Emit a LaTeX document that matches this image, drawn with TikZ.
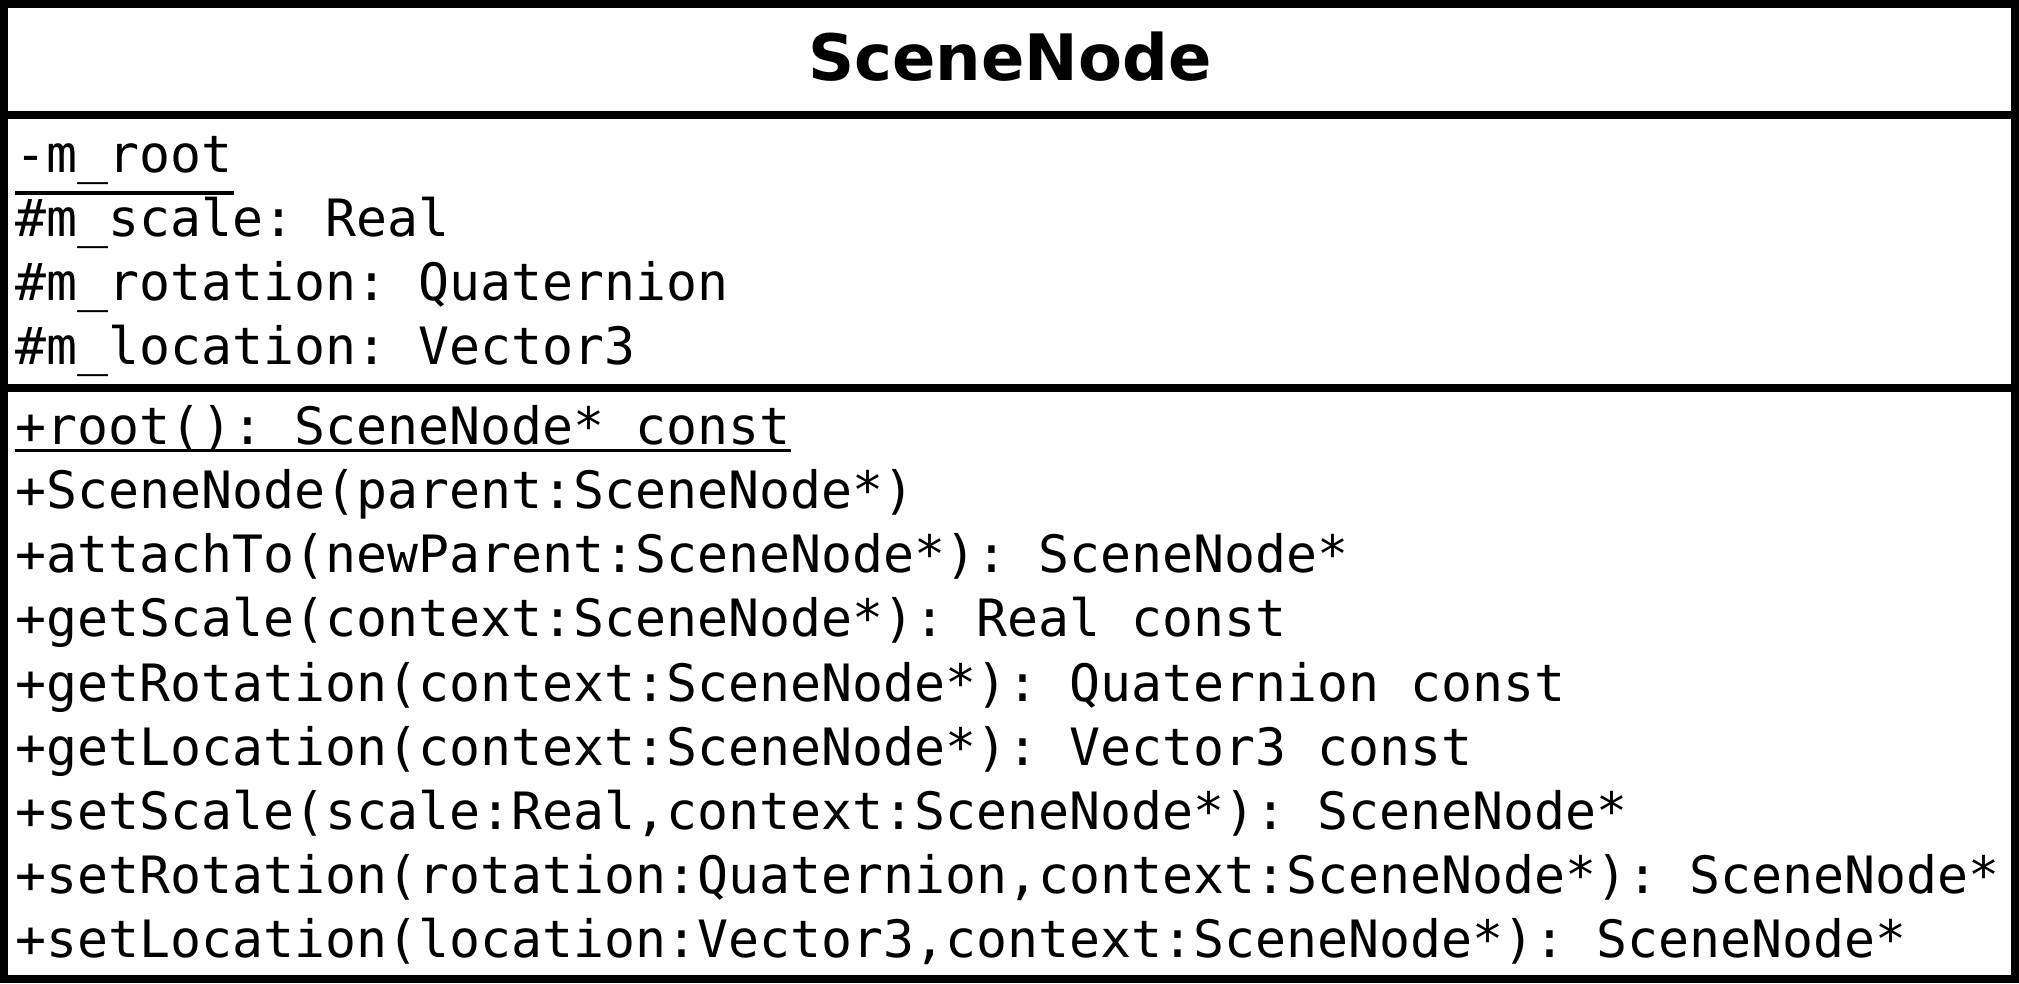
\documentclass[tikz,border=0pt]{standalone}
\usepackage{fontspec}
\setmainfont{DejaVu Sans}
\setmonofont{DejaVu Sans Mono}
\usepackage{tikz}
\usetikzlibrary{calc}
\newcommand{\us}{\char"5F\relax}
\tikzset{member/.style={anchor=base west, inner sep=0pt, font=\ttfamily\fontsize{12.87pt}{16pt}\selectfont}}
\tikzset{frame/.style={line width=2pt}}

\begin{document}
\begin{tikzpicture}[x=0.25pt, y=-0.25pt]
	% Default action for each node
	\useasboundingbox (0,0) rectangle (2019,983);

	\coordinate (topleft) at (4,4);		\coordinate (bottomright) at (2015,979);
	\coordinate (headleft) at (4,115);	\coordinate (headright) at (2015,115);
	\coordinate (attrleft) at (4,388);	\coordinate (attrright) at (2015,388);

	\node[anchor=base, inner sep=0pt, font=\bfseries\fontsize{16pt}{19pt}\selectfont] (title) at (1010,81) {SceneNode};

	\node[member] (mroot) at (15,173) {-m\us root};
	\node[member] (mscale) at (15,237) {\#m\us scale: Real};
	\node[member] (mrotation) at (15,301) {\#m\us rotation: Quaternion};
	\node[member] (mlocation) at (15,365) {\#m\us location: Vector3};

	\node[member] (root) at (15,444) {+root(): SceneNode* const};
	\node[member] (ctor) at (15,508) {+SceneNode(parent:SceneNode*)};
	\node[member] (attachto) at (15,572) {+attachTo(newParent:SceneNode*): SceneNode*};
	\node[member] (getscale) at (15,636) {+getScale(context:SceneNode*): Real const};
	\node[member] (getrotation) at (15,701) {+getRotation(context:SceneNode*): Quaternion const};
	\node[member] (getlocation) at (15,765) {+getLocation(context:SceneNode*): Vector3 const};
	\node[member] (setscale) at (15,829) {+setScale(scale:Real,context:SceneNode*): SceneNode*};
	\node[member] (setrotation) at (15,893) {+setRotation(rotation:Quaternion,context:SceneNode*): SceneNode*};
	\node[member] (setlocation) at (15,957) {+setLocation(location:Vector3,context:SceneNode*): SceneNode*};

	\draw[frame] (topleft) rectangle (bottomright);
	\draw[frame] (headleft) -- (headright);
	\draw[frame] (attrleft) -- (attrright);

	% static members
	\draw[line width=1.2pt] ([yshift=-5pt]mroot.base west) -- ([yshift=-5pt]mroot.base east);
	\draw[line width=0.8pt] ([yshift=-1.6pt]root.base west) -- ([yshift=-1.6pt]root.base east);

\end{tikzpicture}
\end{document}
